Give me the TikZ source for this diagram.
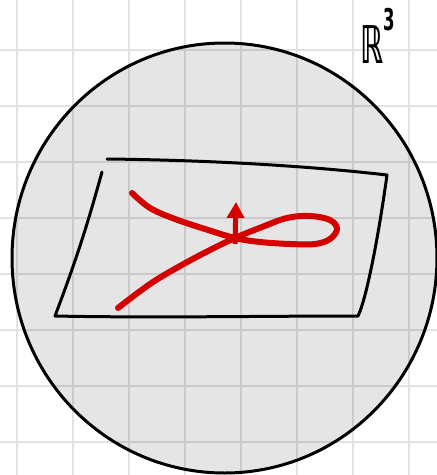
\documentclass[tikz,border=0pt]{standalone}
\usepackage{fontspec}
\newfontfamily\dvsans{DejaVu Sans}
\usetikzlibrary{arrows.meta}
\definecolor{gridc}{HTML}{E2E2E2}
\definecolor{curvered}{HTML}{D40000}
\tikzset{
  gridline/.style={draw=gridc, line width=2pt},
  ink/.style={draw=black, line width=3pt, line cap=round, line join=round},
  redink/.style={draw=curvered, line width=6pt, line cap=round, line join=round},
}
\begin{document}
\begin{tikzpicture}[x=1pt,y=-1pt]
\useasboundingbox (0,0) rectangle (437,475);
\fill[white] (0,0) rectangle (437,475);
% grid
\foreach \gx in {16.5,72.5,128.5,184.5,240.5,296.5,352.5,408.5}
  \draw[gridline] (\gx,0) -- (\gx,475);
\foreach \gy in {50,106,162,218,274,330,386,442}
  \draw[gridline] (0,\gy) -- (437,\gy);
% ball
\fill[black, opacity=0.1] (224.5,258) ellipse [x radius=212.5, y radius=215];
\draw[ink] (224.5,258) ellipse [x radius=212.5, y radius=215];
% plane
\draw[ink] (102,172) .. controls (90,215) and (80,250) .. (55,316)
  .. controls (150,318) and (260,316) .. (358,316)
  .. controls (366,300) and (378,240) .. (387,175)
  .. controls (300,165) and (200,160) .. (107,159);
% curve
\draw[redink] plot[smooth, tension=0.6] coordinates {
  (132,193) (150,208) (175,219) (205,229) (235,238) (260,242) (290,244)
  (315,244) (330,239) (337,229) (330,220) (310,216) (287,218) (262,227)
  (235,238) (210,250) (180,266) (150,284) (118,308)};
% normal vector
\coordinate (base) at (235,244);
\coordinate (tip) at (236,202);
\draw[draw=curvered, line width=5pt, -{Triangle[width=17pt,length=16pt]}] (base) -- (tip);
% label
\node[anchor=base west, inner sep=0pt, xscale=0.55] (lab) at (360,63)
  {\dvsans\bfseries\fontsize{52}{52}\selectfont ℝ\raisebox{0.62em}{\fontsize{30}{30}\selectfont 3}};
\end{tikzpicture}
\end{document}
